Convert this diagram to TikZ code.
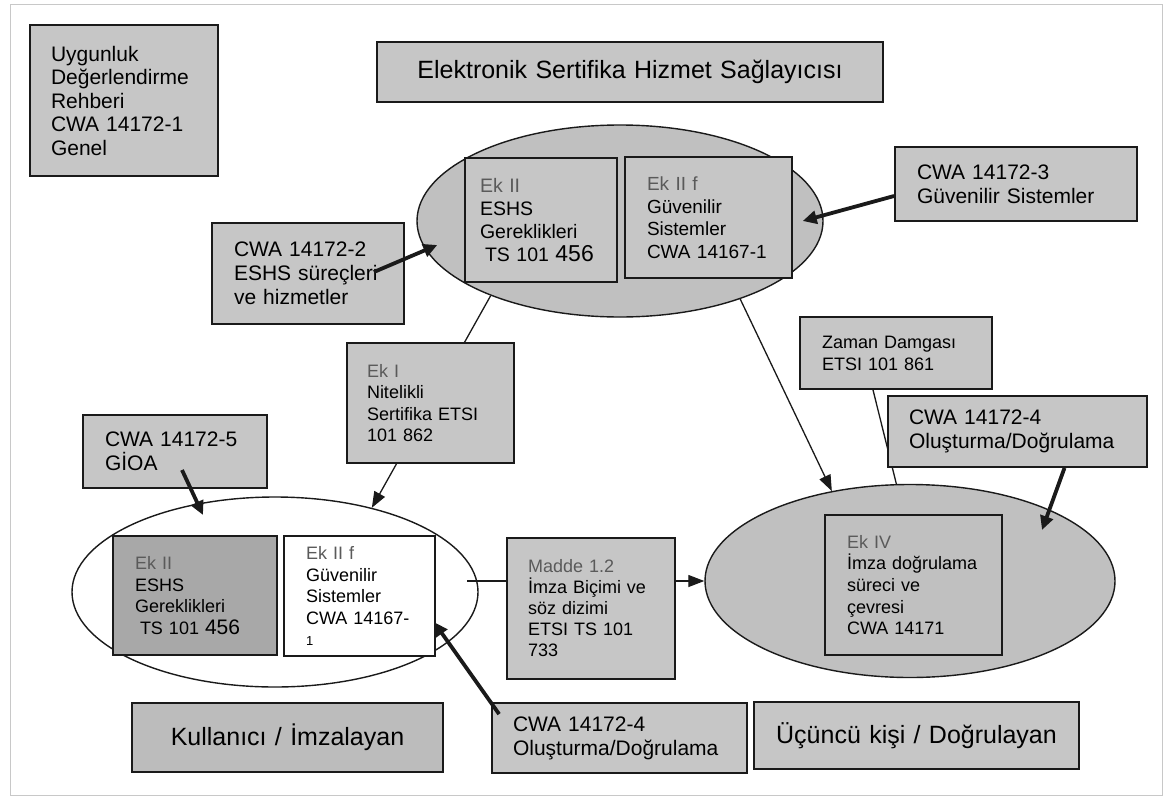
\documentclass[tikz,border=0pt]{standalone}
\usepackage{fontspec}
\setmainfont{Liberation Sans}
\usetikzlibrary{shapes.geometric,arrows.meta}
\definecolor{boxgray}{HTML}{C6C6C6}
\definecolor{ellgray}{HTML}{C0C0C0}
\definecolor{darkgray}{HTML}{A8A8A8}
\definecolor{capgray}{HTML}{BCBCBC}
\definecolor{lineblack}{HTML}{1A1A1A}
\definecolor{labgray}{HTML}{5A5A5A}
\definecolor{framegray}{HTML}{C8C8C8}
\newcommand{\lab}[1]{\textcolor{labgray}{#1}}
\begin{document}
\begin{tikzpicture}[x=1pt,y=-1pt,
  box/.style={draw=lineblack, line width=1.8pt, fill=boxgray, inner sep=0pt, align=left},
  bx/.style n args={3}{minimum width=#1, minimum height=#2, text width=#3},
  big/.style={font=\fontsize{21}{24}\selectfont},
  small/.style={font=\fontsize{18}{21.5}\selectfont},
  huge/.style={font=\fontsize{25}{28}\selectfont, align=center},
  ell/.style={ellipse, draw=lineblack, line width=1.4pt, inner sep=0pt},
  thinline/.style={draw=lineblack, line width=1.3pt},
  thinarr/.style={draw=lineblack, line width=1.3pt, -{Triangle[length=16pt,width=12pt]}},
  thickarr/.style={draw=lineblack, line width=3.8pt, -{Triangle[length=14pt,width=13pt]}}
]
\useasboundingbox (0,0) rectangle (1166,800);
\fill[white] (0,0) rectangle (1166,800);
\draw[framegray, line width=1pt] (10,5) rectangle (1162,795);

% ellipses
\node[ell, fill=ellgray, minimum width=406, minimum height=192] (E1) at (620,221) {};
\node[ell, fill=white, minimum width=406, minimum height=190] (E2) at (275,592) {};
\node[ell, fill=ellgray, minimum width=410, minimum height=193] (E3) at (910,581) {};

% connectors passing behind boxes
\draw[thinarr] (E1.210) -- (E2.41);
\draw[thinarr] (E1.327) -- (E3.131);
\node[box, small, bx={192}{72}{148}, font=\fontsize{18}{22}\selectfont] (zd) at (896,353) {Zaman Damgası\\ETSI 101 861};
\draw[thinline] ([xshift=-23pt]zd.south) -- (E3.98);
\draw[thinarr] ([xshift=192pt]E2.center |- E3.west) -- (E3.west);

% boxes
\node[box, big, bx={188}{151}{146}, font=\fontsize{21}{23.5}\selectfont] (ug) at (124,100.5)
  {Uygunluk\\Değerlendirme\\Rehberi\\CWA 14172-1\\Genel};
\node[box, huge, bx={506}{60}{480}] (title) at (630,72) {Elektronik Sertifika Hizmet Sağlayıcısı};

\node[box, bx={152}{124}{122}, font=\fontsize{19.5}{23}\selectfont] (ek2a) at (541,220)
  {\lab{Ek II}\\ESHS\\Gereklikleri\\\hspace*{5pt}TS 101 {\fontsize{23}{23}\selectfont 456}};
\node[box, bx={167}{121}{123}, font=\fontsize{19}{22.5}\selectfont] (ekfa) at (708.5,217.5)
  {\lab{Ek II f}\\Güvenilir\\Sistemler\\CWA 14167-1};

\node[box, big, bx={242}{74}{198}] (c3) at (1016,184) {CWA 14172-3\\Güvenilir Sistemler};
\node[box, big, bx={192}{101}{148}] (c2) at (308,273.5) {CWA 14172-2\\ESHS süreçleri\\ve hizmetler};
\node[box, small, bx={167}{120}{127}] (ek1) at (430.5,403) {\lab{Ek I}\\Nitelikli\\Sertifika ETSI\\101 862};
\node[box, big, bx={259}{71}{217}] (c4r) at (1017.5,431.5) {CWA 14172-4\\Oluşturma/Doğrulama};
\node[box, big, bx={184}{73}{140}, font=\fontsize{21}{23.5}\selectfont] (c5) at (175,451.5) {CWA 14172-5\\GİOA};

\node[box, fill=darkgray, small, bx={164}{119}{120}] (ek2b) at (195,595.5)
  {\lab{Ek II}\\ESHS\\Gereklikleri\\\hspace*{5pt}TS 101 {\fontsize{21}{21}\selectfont 456}};
\node[box, fill=white, small, bx={151}{120}{107}] (ekfb) at (359.5,596)
  {\lab{Ek II f}\\Güvenilir\\Sistemler\\CWA 14167-\\{\fontsize{13}{13}\selectfont 1}};

\node[box, small, bx={168}{141}{126}, font=\fontsize{18}{21}\selectfont] (md) at (591,608.5)
  {\lab{Madde 1.2}\\İmza Biçimi ve\\söz dizimi\\ETSI TS 101\\733};
\node[box, fill=ellgray, small, bx={177}{140}{133}, font=\fontsize{18}{21.7}\selectfont] (ek4) at (913.5,585)
  {\lab{Ek IV}\\İmza doğrulama\\süreci ve\\çevresi\\CWA 14171};

\node[box, big, bx={255}{70}{213}] (c4b) at (619.5,738) {CWA 14172-4\\Oluşturma/Doğrulama};
\node[box, fill=capgray, huge, bx={311}{69}{300}] (ku) at (287.5,737.5) {Kullanıcı / İmzalayan};
\node[box, huge, bx={325}{67}{310}] (uc) at (916.5,735.5) {Üçüncü kişi / Doğrulayan};

% thick arrows
\draw[thickarr] ([yshift=-12pt]c3.west) -- ([xshift=-21pt]E1.east);
\draw[thickarr] ([xshift=-31pt,yshift=1.5pt]c2.east) -- ([xshift=21pt,yshift=-24pt]E1.west);
\draw[thickarr] ([xshift=7pt,yshift=-18.5pt]c5.center) -- ([xshift=-72pt,yshift=77pt]E2.center);
\draw[thickarr] ([xshift=47pt]c4r.south) -- ([xshift=132pt,yshift=51pt]E3.center);
\draw[thickarr] ([xshift=8pt,yshift=-12pt]c4b.north west) -- ([xshift=-2pt,yshift=-26pt]ekfb.east);
\end{tikzpicture}
\end{document}
